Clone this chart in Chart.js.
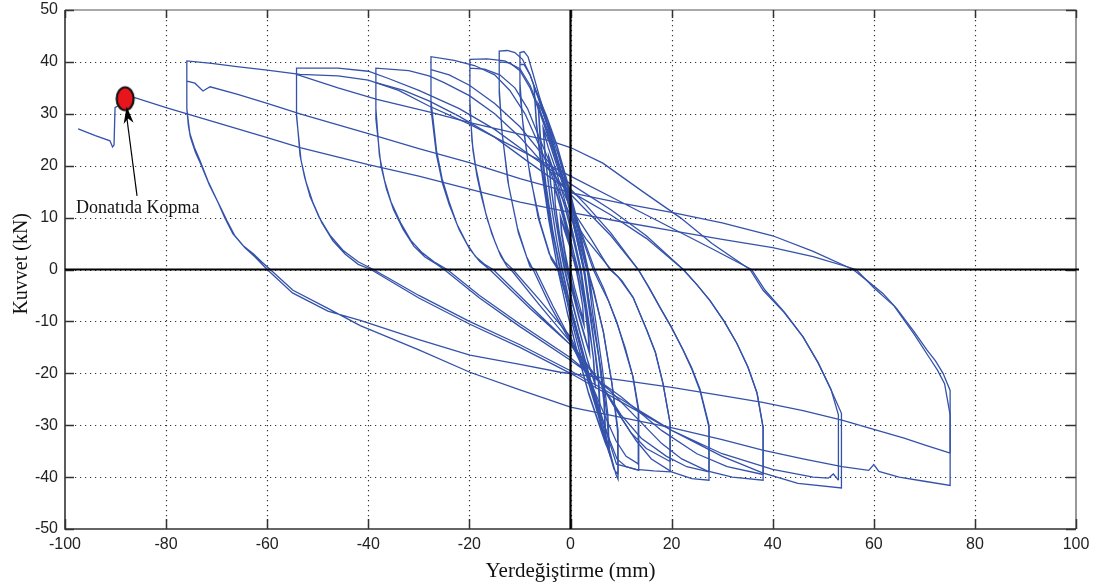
<!DOCTYPE html>
<html><head><meta charset="utf-8">
<script src="https://cdn.jsdelivr.net/npm/chart.js@4.4.0/dist/chart.umd.min.js"></script>
<style>html,body{margin:0;padding:0;background:#fff;}#wrap{width:1099px;height:584px;}</style>
</head><body><div id="wrap"><canvas id="c" width="1099" height="584"></canvas></div>
<script>
// ---- axis / tick values ----
const xTickVals = [-100,-80,-60,-40,-20,0,20,40,60,80,100];
const yTickVals = [-50,-40,-30,-20,-10,0,10,20,30,40,50];
const xTitle = 'Yerdeğiştirme (mm)';
const yTitle = 'Kuvvet (kN)';
const noteText = 'Donatıda Kopma';
const rupturePoint = [-88.1, 32.9];

// ---- hysteresis path (displacement mm, force kN) ----
const loopSmall = [[0,0],[0.8,-3.5],[1.8,-7],[2.6,-10],[2.4,-7],[1.8,-3.5],[1.1,0],[0,4],[-1.2,7.5],[-2,10],[-1.8,7],[-1.2,3.5],[-0.5,0],[0.4,-3.5],[1.6,-7.5],[2.6,-10.5],[2.4,-7],[1.7,-3],[1.2,0],[0,4.5],[-1.2,8],[-2,10.3],[-1.7,7],[-1.1,3.5],[-0.4,0],[0.5,-3.5],[1.6,-7.5],[2.7,-10.8],
[2.4,-7],[1.6,-2],[1.1,0],[0,4.5],[-1.2,9],[-2.3,13],[-3.2,16],[-3,12.5],[-2.3,7],[-1.4,2.5],[-0.8,0],[0.4,-4.5],[1.6,-9],[2.8,-13],[3.7,-16],[3.5,-12.5],[2.8,-7],[2,-2.5],[1.5,0],[0.3,4.5],[-1,9],[-2.2,13],[-3.2,16.3],[-3,12.5],[-2.2,7],[-1.3,2.5],[-0.7,0],[0.5,-4.5],[1.7,-9],[2.9,-13],[3.8,-16.3],
[3.6,-12],[2.7,-6.5],[1.8,-1.5],[1.4,0],[0,6],[-1.5,11.5],[-3,17],[-4.3,21.5],[-4,17],[-3.1,10.5],[-2,4],[-1.2,0],[0.2,-6],[1.8,-12],[3.4,-17.5],[4.8,-22],[4.5,-17],[3.6,-10.5],[2.6,-4.5],[1.9,0],[0.5,6],[-1.1,12],[-2.8,17.5],[-4.3,21.8],[-3.9,16.5],[-3,10],[-1.9,3.5],[-1.1,0],[0.3,-6],[2,-12.5],[3.5,-18],[4.9,-22.3],
[4.6,-17.5],[3.6,-10],[2.6,-3.5],[2.1,0],[0.5,7],[-1.2,13.5],[-3,19.5],[-4.4,23.5],[-5.4,27],[-5,21.5],[-4,13.5],[-2.8,6],[-1.6,0],[0,-7],[1.8,-14],[3.5,-20],[4.8,-24.5],[5.8,-28],[5.5,-21.5],[4.6,-14],[3.5,-6.5],[2.6,0],[1,7],[-0.8,14],[-2.7,20],[-4.2,24.5],[-5.4,27.3],[-4.9,21],[-3.9,13],[-2.7,5.5],[-1.7,0],[0,-7.5],[1.9,-14.5],[3.6,-20.5],[4.9,-25],[5.9,-28.3],
[5.6,-21],[4.6,-13.5],[3.6,-6],[2.8,0],[1.2,7],[-0.7,14.5],[-2.6,21],[-4.4,26.5],[-5.6,29.5],[-6.4,31.5],[-6,25],[-5,16.5],[-3.7,8],[-2.1,0],[-0.4,-7.5],[1.6,-15],[3.5,-21.5],[5.2,-27],[6.2,-30.5],[6.9,-32.5],[6.6,-25.5],[5.6,-17],[4.4,-8.5],[3.3,0],[1.6,7.5],[-0.4,15],[-2.4,22],[-4.3,27.5],[-5.6,30.5],[-6.4,32],[-5.9,25],[-4.8,16],[-3.5,7.5],[-2,0],[-0.3,-8],[1.7,-15.5],[3.6,-22],[5.3,-27.5],[6.3,-31],[7,-33],
[6.7,-25.5],[5.5,-16],[4.2,-7],[3.4,0],[1.6,8],[-0.5,16],[-2.6,23.5],[-4.6,29],[-6.2,33],[-7.2,35],[-6.8,28.5],[-5.8,19.5],[-4.3,9.5],[-2.5,0],[-0.7,-8],[1.4,-16],[3.5,-23.5],[5.4,-29],[6.8,-33],[7.7,-35.5],[7.4,-28],[6.3,-19],[5,-10],[3.5,0],[1.6,8.5],[-0.5,16.5],[-2.7,24],[-4.7,29.5],[-6.3,33.3],[-7.2,35.2],[-6.7,28],[-5.6,19],[-4.1,9],[-2.5,0],[-0.6,-8.5],[1.5,-16.5],[3.6,-24],[5.5,-29.5],[6.9,-33.5],[7.7,-35.3]];

const loop10 = [[7.7,-35.3],[7.2,-28],[6,-19],[4.2,-9],[2.6,0],[0.5,9],[-2,19],[-4.2,27],[-6.2,33.5],[-7.5,38],[-8.4,41],[-9.2,42],[-10,41.8],
[-10,36],[-9.5,29],[-8.3,20],[-6.4,10],[-4.2,3],[-2.2,0],[0,-7],[2.5,-16],[5,-25],[7,-32],[8.3,-37],[9,-39.5],[9.4,-40.4],
[9.4,-31],[8.2,-22],[6.5,-12],[4.5,-4],[3.2,0],[1,8],[-1.5,17],[-4,26],[-6.3,33],[-8,37.5],[-9.2,39.5],[-10,39.5],
[-10,34],[-9.3,27],[-8,18],[-6,9],[-3.8,2],[-2.5,0],[0,-8],[2.5,-17],[5,-26],[7,-33],[8.6,-38.5],[9.4,-39.5]];

const loop14 = [[9.4,-39.5],[9.3,-31],[8.2,-22],[6.5,-12],[4.6,-4],[3.4,0],[1,9],[-1.5,18],[-4,26],[-6.2,32.5],[-8,37.5],[-9.5,40.5],[-11,41.8],[-12.5,42.2],[-14.1,42.1],
[-14.1,35],[-13.6,27],[-12.4,17],[-10.5,8],[-8.7,2.5],[-7.4,0],[-4,-7],[0,-14],[3.5,-21],[6,-28],[7.8,-33],[9.2,-36.5],[11,-38],[13.5,-38.7],
[13.5,-27],[12.4,-20.8],[10.8,-15],[9.2,-10.4],[7.5,-6],[5.8,-2.7],[4.5,0],[2,7],[-1,15.5],[-3.5,23],[-6,30],[-8,35],[-10,38.3],[-12,39.8],[-14.1,40],
[-14.1,34],[-13.5,26],[-12.2,16],[-10.3,7],[-8,0.5],[-7,0],[-3.5,-7],[0,-13.5],[3.5,-20.5],[6.5,-27.5],[9,-33],[11,-36],[13.5,-37.5]];

const loop20 = [[13.5,-37.5],[13.4,-27],[12.3,-20.5],[9.2,-10.2],[6.5,-3.5],[4.8,0],[2,7.5],[-1,16],[-3.5,23.5],[-6,30.5],[-8,35.5],[-10,38.7],[-13,40.2],[-16.5,40.6],[-19.9,40.5],
[-19.9,32.5],[-19.5,24.8],[-18.8,20],[-17.9,15.8],[-16.8,11],[-15.6,7],[-14.3,3.8],[-13,1.5],[-11.4,0],[-6,-6],[0,-13],[3.5,-20],[5.5,-26],[7.3,-32],[9.1,-37.5],[13,-38.5],[16.5,-38.8],[19.7,-39],
[19.7,-29.6],[18.3,-22],[16.8,-16],[15.1,-11.7],[12.4,-5.4],[9.5,-1.5],[7.8,0],[4,6],[0,12],[-3,18],[-6,25],[-8.5,31],[-11,35],[-14,37.5],[-17,38.6],[-19.9,38.8],
[-19.9,31],[-19.3,23],[-18.5,18],[-17.6,14],[-16.4,9.5],[-15,5.5],[-13.8,2.6],[-12.5,0.5],[-11.8,0],[-6,-7],[0,-14],[5,-20.5],[9,-27],[12,-31.5],[15,-34.5],[19.7,-37]];

const loop27 = [[19.7,-37],[19.7,-29.6],[18.3,-22],[16.8,-16],[15.1,-11.7],[12.4,-5.4],[10.2,-2.2],[8,0],[3,6],[0,10.5],[-3,16.5],[-6,23.5],[-9,30],[-12,34.5],[-15,37.5],[-19,39.3],[-23,40.3],[-27.6,41],
[-27.6,32.5],[-26.5,22.9],[-25.4,17.5],[-24,13],[-22.4,8.6],[-20.5,5],[-18.8,2.5],[-17,1],[-15.3,0],[-8,-7],[0,-14.5],[6,-22],[10,-28.5],[13,-33],[16,-36.5],[20,-39],[24,-40.3],[27.4,-40.6],
[27.4,-30.4],[25.6,-23.3],[24,-19.2],[22.3,-15.6],[20,-11.2],[17.7,-7.3],[15.5,-3.5],[13.4,0],[8,7],[3,12.5],[0,15.5],[-5,21.5],[-10,27.5],[-15,32],[-20,35.5],[-24,37.5],[-27.6,38.5],
[-27.6,31],[-26.5,22],[-25.3,16.5],[-24,12.5],[-22,7.6],[-20,4],[-18,1.6],[-16,0],[-8,-7.5],[0,-14.5],[6,-22],[10,-28],[14,-32.5],[19,-36],[23,-38],[27.4,-39]];

const loop38 = [[27.4,-39],[27.4,-30],[25.6,-23],[24,-19],[22.3,-15.5],[20,-11.2],[17.7,-7.3],[15.5,-3.4],[13.4,0],[8,6.5],[3,11.5],[0,14.5],[-5,20],[-10,25.5],[-15,30],[-20,33.5],[-25,36],[-28,37.3],[-32,38.3],[-38.5,38.8],
[-38.5,31],[-37.8,22],[-36.8,17.2],[-35.5,13],[-33.6,9],[-31.5,5.5],[-29.3,3.2],[-27,1.5],[-24.4,0],[-18,-5],[-10,-10.5],[0,-17],[8,-23.5],[14,-29.5],[18,-33.5],[22,-36.5],[27,-38.8],[32,-40],[38.1,-40.6],
[38.1,-30.4],[36.9,-23.8],[35.1,-18.8],[32.9,-14.2],[30.4,-10],[27.6,-6],[25,-2.9],[22.3,0],[15,6],[8,10.5],[0,15],[-8,20.5],[-15,25.5],[-22,29.5],[-28,32.5],[-33,34.5],[-38.5,36],
[-38.5,29],[-37.5,20],[-36.4,15.5],[-35,11.5],[-33.1,7.7],[-31,4.5],[-28.8,2.4],[-26.5,1],[-25,0],[-18,-5.5],[-10,-11],[0,-17.5],[10,-24.5],[18,-31],[25,-35.5],[31,-38],[38.1,-39.5]];

const loop54 = [[38.1,-39.5],[38.1,-30.4],[36.9,-23.8],[35.1,-18.8],[32.9,-14.2],[30.4,-10],[27.6,-6],[25,-2.9],[22.3,0],[15,6.5],[8,11.5],[0,16.5],[-8,22],[-15,27],[-22,31],[-30,34.5],[-36,36.8],[-40,38.2],[-46,38.8],[-54.2,38.8],
[-54.2,30],[-53.5,22],[-52.6,17.8],[-51.5,14],[-49.7,10],[-47.5,6.5],[-44.9,3.6],[-42,1.5],[-39,0],[-30,-5],[-20,-10],[-10,-14.5],[0,-19.5],[10,-25],[20,-31],[30,-36],[38,-39.2],[45,-41.2],[53.6,-42.1],
[53.6,-27.7],[51.6,-23.3],[49,-18],[46,-13],[42.2,-8.2],[38.1,-4],[35.5,0],[28,5],[21.7,10],[14.3,15],[6.4,20.5],[0,23.5],[-4,24.8],[-12,26.5],[-19.9,28.3],[-27.8,30.3],[-38.3,32.8],[-46,35],[-54.2,37.6],
[-54.2,29.5],[-53.3,21],[-52.3,16.8],[-51,13],[-49.2,9],[-47,5.5],[-44.6,3],[-42,1],[-39.5,0],[-30,-5.5],[-20,-10.5],[-10,-15],[0,-20],[10,-25.5],[20,-31],[30,-35.5],[40,-38.5],[48,-40],[51,-40.2],[52,-39.4],[53,-40.6]];

const loop75 = [[53,-40.6],[53,-28],[51.5,-23],[49,-18],[46,-13],[42.4,-8.3],[38.5,-4],[35.8,0],[28,4],[20,8],[10,13],[0,18],[-10,23],[-20,28],[-28,31.5],[-34,34.5],[-40,36.5],[-46,37.3],[-53.5,37.6],[-60,38.4],[-66,39.1],[-71,39.7],[-75.9,40.2],
[-75.9,31],[-75.6,28.5],[-75.3,26.2],[-74.4,23.5],[-73.3,21],[-71.7,17],[-69.9,13.3],[-68.4,10],[-66.8,6.9],[-64.8,4.6],[-62.7,3],[-61,1.4],[-59.4,0],[-54.9,-4],[-48,-7.5],[-41.6,-10.8],[-30,-15.5],[-19.9,-19.8],[-10,-23.2],[0,-26.5],[10,-28.5],[19.7,-30.4],[30,-32.8],[38,-34.8],[46,-36.5],[53.7,-38],[59,-38.7],[60,-37.6],[61,-38.9],[65,-40],[70,-40.8],[75.1,-41.6],
[75.1,-23.3],[73.7,-20],[72.2,-17.6],[70.5,-15.5],[68,-12],[64.5,-7.5],[61.8,-4.6],[58.5,-2],[55.9,0],[48,3.5],[40,6.5],[30,9],[20,11],[10,12.8],[0,14.8],[-10,17.5],[-20,20.6],[-30,23.3],[-40,26.2],[-53.5,30],[-60,32],[-66,33.8],[-71.3,35.2],[-72.7,34.4],[-74.3,35.9],[-75.9,36.3],
[-75.9,31],[-75.6,27.8],[-75.2,25.5],[-74.2,22.6],[-73,20],[-71.4,16.2],[-69.6,12.7],[-68,9.5],[-66.4,6.5],[-64.4,4.2],[-62.5,2.5],[-61.2,1.2],[-60,0],[-55,-4.5],[-48,-8],[-41.6,-9.8],[-30,-13.5],[-19.9,-16.5],[-10,-18.3],[-2,-19.8],[10,-21.3],[20,-22.7],[30,-24.3],[38,-25.6],[46,-27.2],[53.7,-29],[60,-30.8],[66,-32.5],[70,-33.8],[74.5,-35.2],[75.1,-35.4]];

const loopFinal = [[75.1,-35.4],[75.1,-28],[74,-22],[72.6,-19.4],[71,-17],[68,-12.5],[64,-7],[60,-3.5],[56.5,0],[48,2.5],[40,4.2],[30,5.8],[20,7.5],[10,9.2],[0,11],[-10,13],[-20,15.5],[-30,18],[-40,20.2],[-53.5,23.5],[-60,25.4],[-70,28.3],[-80,31.2],[-86.5,33.2],[-88.1,32.8],
[-89.6,31.5],[-90.1,31.2],[-90.3,24],[-90.6,23.6],[-91.1,24.8],[-94,25.8],[-97.4,27.1]];

const loops = [loopSmall, loop10, loop14, loop20, loop27, loop38, loop54, loop75, loopFinal];

// ---- styling ----
const lineBlue = 'rgb(52,82,170)';
const tickFont = {family: "'Liberation Sans', Arial, sans-serif", size: 16};
const serif = "'Liberation Serif', 'Times New Roman', serif";

// rupture marker (red ellipse)
const dot = document.createElement('canvas');
dot.width = 24; dot.height = 30;
(function(){ const g = dot.getContext('2d'); g.beginPath(); g.ellipse(12,15,8.5,11.5,0,0,Math.PI*2);
  g.fillStyle = '#e8161c'; g.fill(); g.lineWidth = 2.2; g.strokeStyle = '#111'; g.stroke(); })();

const framePlugin = {
  id: 'frame',
  beforeDatasetsDraw(chart) {
    const {ctx, chartArea: a, scales: {x, y}} = chart;
    ctx.save();
    ctx.strokeStyle = '#333'; ctx.lineWidth = 1.2; ctx.setLineDash([1.2, 3.8]);
    xTickVals.forEach(v => {
      if (v === xTickVals[0] || v === xTickVals[xTickVals.length-1]) return;
      const px = Math.round(x.getPixelForValue(v)) + 0.5;
      ctx.beginPath(); ctx.moveTo(px, a.top); ctx.lineTo(px, a.bottom); ctx.stroke();
    });
    yTickVals.forEach(v => {
      if (v === yTickVals[0] || v === yTickVals[yTickVals.length-1]) return;
      const py = Math.round(y.getPixelForValue(v)) + 0.5;
      ctx.beginPath(); ctx.moveTo(a.left, py); ctx.lineTo(a.right, py); ctx.stroke();
    });
    ctx.restore();
  },
  afterDatasetsDraw(chart) {
    const {ctx, chartArea: a, scales: {x, y}} = chart;
    ctx.save();
    ctx.strokeStyle = '#555'; ctx.lineWidth = 1.2;
    ctx.beginPath(); ctx.moveTo(a.left, a.top); ctx.lineTo(a.right, a.top); ctx.lineTo(a.right, a.bottom); ctx.stroke();
    ctx.strokeStyle = '#333'; ctx.lineWidth = 1.6;
    ctx.beginPath(); ctx.moveTo(a.left, a.top); ctx.lineTo(a.left, a.bottom); ctx.lineTo(a.right, a.bottom); ctx.stroke();
    ctx.lineWidth = 1.5; ctx.strokeStyle = '#333';
    xTickVals.forEach(v => {
      const px = Math.round(x.getPixelForValue(v)) + 0.5;
      ctx.beginPath(); ctx.moveTo(px, a.bottom); ctx.lineTo(px, a.bottom - 10); ctx.stroke();
      ctx.beginPath(); ctx.moveTo(px, a.top); ctx.lineTo(px, a.top + 8); ctx.stroke();
    });
    yTickVals.forEach(v => {
      const py = Math.round(y.getPixelForValue(v)) + 0.5;
      ctx.beginPath(); ctx.moveTo(a.left, py); ctx.lineTo(a.left + 9, py); ctx.stroke();
      ctx.beginPath(); ctx.moveTo(a.right, py); ctx.lineTo(a.right - 10, py); ctx.stroke();
    });
    ctx.strokeStyle = '#000'; ctx.lineWidth = 2.2;
    const x0 = x.getPixelForValue(0), y0 = y.getPixelForValue(0);
    ctx.beginPath(); ctx.moveTo(x0, a.top); ctx.lineTo(x0, a.bottom); ctx.stroke();
    ctx.beginPath(); ctx.moveTo(a.left, y0); ctx.lineTo(a.right + 3, y0); ctx.stroke();
    // annotation: arrow + text
    const tipX = x.getPixelForValue(-87.8), tipY = y.getPixelForValue(31.4);
    const tailX = x.getPixelForValue(-85.75), tailY = y.getPixelForValue(14.2);
    ctx.strokeStyle = '#000'; ctx.lineWidth = 1.2;
    ctx.beginPath(); ctx.moveTo(tailX, tailY); ctx.lineTo(tipX, tipY + 10); ctx.stroke();
    const ang = Math.atan2(tipY - tailY, tipX - tailX);
    ctx.fillStyle = '#000';
    ctx.beginPath(); ctx.moveTo(tipX, tipY);
    ctx.lineTo(tipX - 17*Math.cos(ang) + 5*Math.sin(ang), tipY - 17*Math.sin(ang) - 5*Math.cos(ang));
    ctx.lineTo(tipX - 12*Math.cos(ang), tipY - 12*Math.sin(ang));
    ctx.lineTo(tipX - 17*Math.cos(ang) - 5*Math.sin(ang), tipY - 17*Math.sin(ang) + 5*Math.cos(ang));
    ctx.closePath(); ctx.fill();
    ctx.font = '18px ' + serif; ctx.fillStyle = '#111'; ctx.textAlign = 'left'; ctx.textBaseline = 'alphabetic';
    ctx.fillText(noteText, x.getPixelForValue(-97.8), y.getPixelForValue(10.8));
    ctx.restore();
  },
  afterDraw(chart) {
    const {ctx, scales: {x, y}} = chart;
    ctx.save();
    ctx.fillStyle = '#111'; ctx.textAlign = 'center'; ctx.textBaseline = 'alphabetic';
    ctx.font = '21px ' + serif;
    ctx.fillText(xTitle, x.getPixelForValue(0), 577);
    ctx.translate(27, y.getPixelForValue(1.1)); ctx.rotate(-Math.PI/2);
    ctx.font = '20px ' + serif;
    ctx.fillText(yTitle, 0, 0);
    ctx.restore();
  }
};

const datasets = [{
  data: [{x: rupturePoint[0], y: rupturePoint[1]}],
  showLine: false, pointStyle: dot, pointRadius: 6, pointHoverRadius: 6
}].concat(loops.map(l => ({
  data: l.map(p => ({x: p[0], y: p[1]})),
  showLine: true, borderColor: lineBlue, borderWidth: 1.3, pointRadius: 0, tension: 0, fill: false
})));

new Chart(document.getElementById('c'), {
  type: 'scatter',
  data: {datasets},
  options: {
    responsive: false, animation: false, devicePixelRatio: 1,
    layout: {padding: {top: 10, right: 23, left: 0, bottom: 0}},
    plugins: {legend: {display: false}, tooltip: {enabled: false}},
    scales: {
      x: {type: 'linear', min: xTickVals[0], max: xTickVals[xTickVals.length-1],
          afterFit(s) { s.height = 55; s.paddingLeft = 0; s.paddingRight = 0; },
          grid: {display: false, drawTicks: false}, border: {display: false},
          afterBuildTicks(s) { s.ticks = xTickVals.map(v => ({value: v})); },
          ticks: {font: tickFont, color: '#222', padding: 6, maxRotation: 0, autoSkip: false}},
      y: {type: 'linear', min: yTickVals[0], max: yTickVals[yTickVals.length-1],
          afterFit(s) { s.width = 65; s.paddingTop = 0; s.paddingBottom = 0; },
          grid: {display: false, drawTicks: false}, border: {display: false},
          afterBuildTicks(s) { s.ticks = yTickVals.map(v => ({value: v})); },
          ticks: {font: tickFont, color: '#222', padding: 7, autoSkip: false}}
    }
  },
  plugins: [framePlugin]
});
</script>
</body></html>
